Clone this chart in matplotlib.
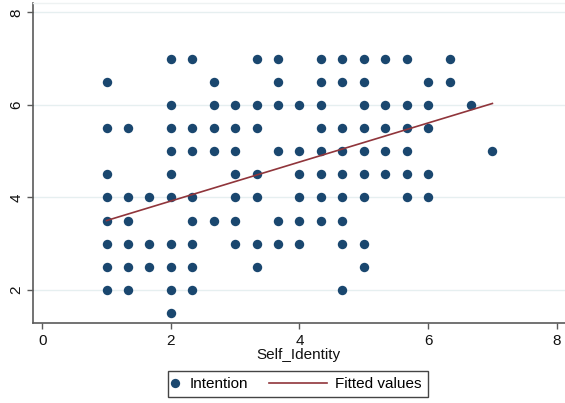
import numpy as np
import matplotlib
matplotlib.use("Agg")
import matplotlib.pyplot as plt
from matplotlib.lines import Line2D
from matplotlib.legend_handler import HandlerBase

plt.rcParams["font.family"] = ["Liberation Sans", "DejaVu Sans"]

# Intention levels and the Self_Identity scores (in thirds) observed at each level
intention_levels = [7.0, 6.5, 6.0, 5.5, 5.0, 4.5, 4.0, 3.5, 3.0, 2.5, 2.0, 1.5]
identity_thirds = [
    [6, 7, 10, 11, 13, 14, 15, 16, 17, 19],
    [3, 8, 11, 13, 14, 15, 18, 19],
    [6, 8, 9, 10, 11, 12, 13, 15, 16, 17, 18, 20],
    [3, 4, 6, 7, 8, 9, 10, 13, 14, 15, 16, 17, 18],
    [6, 7, 8, 9, 11, 12, 13, 14, 15, 16, 17, 21],
    [3, 6, 9, 10, 12, 13, 14, 15, 16, 17, 18],
    [3, 4, 5, 6, 7, 9, 10, 12, 13, 14, 15, 17, 18],
    [3, 4, 7, 8, 9, 11, 12, 13, 14],
    [3, 4, 5, 6, 7, 9, 10, 11, 12, 14, 15],
    [3, 4, 5, 6, 7, 10, 15],
    [3, 4, 6, 7, 14],
    [6],
]

# Linear fit endpoints
fit_x = [1.0, 7.0]
fit_y = [3.50, 6.03]

x_ticks = [0, 2, 4, 6, 8]
y_ticks = [2, 4, 6, 8]

self_identity = np.concatenate([np.array(t) / 3.0 for t in identity_thirds])
intention = np.concatenate([[lvl] * len(t) for lvl, t in zip(intention_levels, identity_thirds)])

NAVY = "#1a476f"
MAROON = "#90353b"
AXCOL = "#5a5a5a"
FS = 11

fig = plt.figure(figsize=(5.65, 4.03), dpi=100)
fig.patch.set_facecolor("white")
ax = fig.add_axes([32.7 / 565, 80.3 / 403, 1 - 32.7 / 565, (400 - 80.3) / 403])
ax.set_facecolor("white")

ax.set_xlim(-0.148, 8.129)
ax.set_ylim(1.293, 8.201)

for yv in y_ticks:
    ax.axhline(yv, color="#e6eff0", lw=1.0, zorder=0)

ax.scatter(self_identity, intention, s=46, color=NAVY, linewidths=0, zorder=3)
ax.plot(fit_x, fit_y, color=MAROON, lw=1.2, zorder=4)

ax.set_xticks(x_ticks)
ax.set_yticks(y_ticks)
ax.tick_params(axis="both", direction="out", length=4.3, width=1.0, color=AXCOL,
               labelsize=FS, labelcolor="#111111")
ax.tick_params(axis="x", pad=3.5)
ax.tick_params(axis="y", pad=2.5)
for lab in ax.get_yticklabels():
    lab.set_rotation(90)
    lab.set_va("center")

for side in ("left", "bottom"):
    ax.spines[side].set_color(AXCOL)
    ax.spines[side].set_linewidth(1.2)
ax.spines["right"].set_visible(False)
ax.spines["top"].set_color("#eef2f2")
ax.spines["top"].set_linewidth(1.0)

ax.set_xlabel("Self_Identity", fontsize=FS, labelpad=0, color="#111111")


class DotHandler(HandlerBase):
    def create_artists(self, legend, orig_handle, xdescent, ydescent,
                       width, height, fontsize, trans):
        y = height / 2 - ydescent
        m = Line2D([-xdescent + 0.13 * width], [y], marker="o", ls="none",
                   color=NAVY, markersize=6.7, markeredgewidth=0)
        m.set_transform(trans)
        return [m]


class LongLineHandler(HandlerBase):
    def create_artists(self, legend, orig_handle, xdescent, ydescent,
                       width, height, fontsize, trans):
        y = height / 2 - ydescent
        ln = Line2D([-xdescent - 6.6 * width, -xdescent + 0.92 * width], [y, y],
                    color=MAROON, lw=1.2)
        ln.set_transform(trans)
        return [ln]


h_dot = Line2D([], [], marker="o", ls="none", color=NAVY)
h_fit = Line2D([], [], color=MAROON)
leg = fig.legend([h_dot, h_fit], ["Intention", "Fitted values"],
                 handler_map={h_dot: DotHandler(), h_fit: LongLineHandler()},
                 loc="upper center", bbox_to_anchor=(298 / 565, (403 - 371) / 403),
                 ncol=2, fontsize=FS, handlelength=0.5, handletextpad=0.5,
                 columnspacing=4.7, borderpad=0.4, borderaxespad=0,
                 fancybox=False, frameon=True, framealpha=1)
leg.get_frame().set_edgecolor("#444444")
leg.get_frame().set_linewidth(1.0)

fig.savefig("out.png", dpi=100, facecolor="white")
